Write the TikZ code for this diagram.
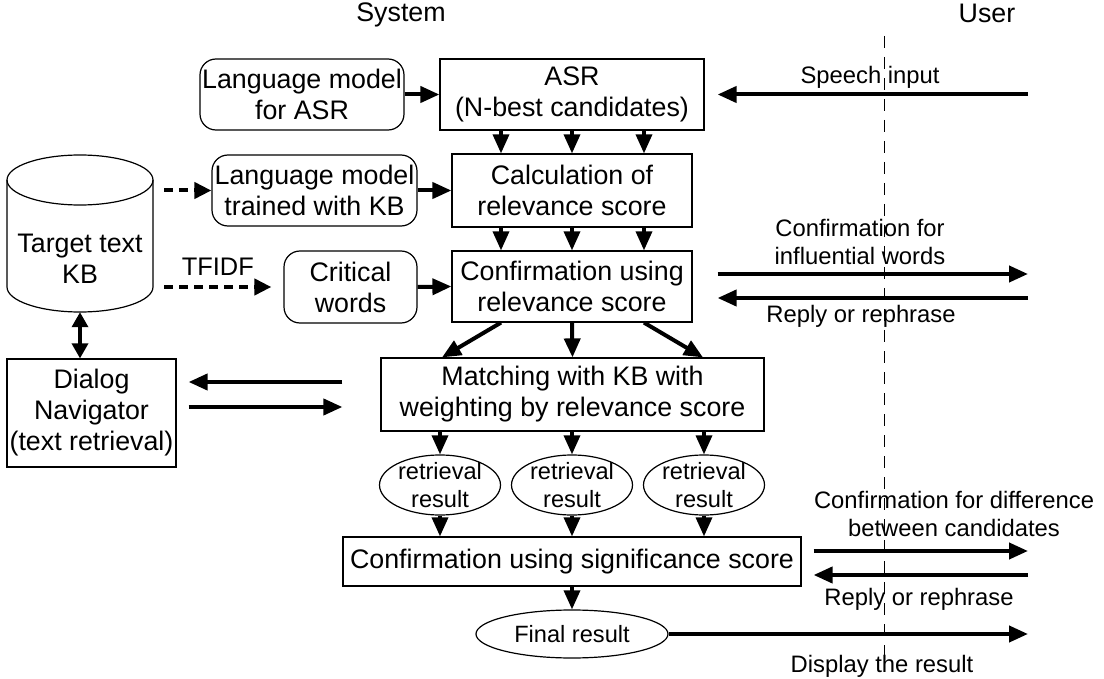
\documentclass[tikz,border=0pt]{standalone}
\usepackage{fontspec}
\setmainfont{Liberation Sans}
\usetikzlibrary{arrows.meta,shapes.geometric,calc}
\newcommand{\mainfs}{\fontsize{26.8}{31}\selectfont}
\newcommand{\labfs}{\fontsize{23.8}{28}\selectfont}
\newcommand{\ellfs}{\fontsize{23.6}{28}\selectfont}
\begin{document}
\begin{tikzpicture}[x=1pt,y=-1pt,
  box/.style={draw, line width=1.2pt, inner sep=0pt, align=center, font=\mainfs},
  rbox/.style={box, rounded corners=16pt},
  ell/.style={draw, ellipse, line width=1.2pt, inner sep=-3pt, align=center, font=\ellfs},
  lab/.style={inner sep=0pt, align=center, font=\labfs},
  tip/.style={-{Triangle[length=19pt,width=16pt]}},
  big/.style={tip, line width=4pt},
  small/.style={tip, line width=3.4pt},
  dotarrow/.style={line width=4pt, dash pattern=on 9pt off 6pt, -{Triangle[length=17pt,width=16pt]}},
  divider/.style={line width=0.9pt, dash pattern=on 12pt off 9pt}]
\useasboundingbox (0,0) rectangle (1104,679);

% headers
\node[inner sep=0pt, font=\mainfs] (sys) at (401,15) {System};
\node[inner sep=0pt, font=\mainfs] (usr) at (987,13) {User};
\draw[divider] (884,36) -- (884,668);

% target text KB cylinder
\draw[line width=1.2pt] (7,180) -- (7,287) arc[start angle=180, end angle=360, x radius=73pt, y radius=25pt] -- (153,180);
\draw[line width=1.2pt] (80,180) ellipse[x radius=73pt, y radius=25pt];
\node[inner sep=0pt, minimum width=146pt, minimum height=157pt] (kb) at (80,233.5) {};
\node[inner sep=0pt, align=center, font=\mainfs] (kbtext) at (80,259) {Target text\\KB};

% boxes
\node[rbox, minimum width=204pt, minimum height=71pt] (lm1) at (302,94.5) {Language model\\for ASR};
\node[box, minimum width=264pt, minimum height=71pt] (asr) at (572,94.5) {ASR\\(N-best candidates)};
\node[rbox, minimum width=205pt, minimum height=71pt] (lm2) at (314.5,190.5) {Language model\\trained with KB};
\node[box, minimum width=240pt, minimum height=73pt] (calc) at (572,190.5) {Calculation of\\relevance score};
\node[rbox, minimum width=133pt, minimum height=72pt] (crit) at (350.5,287) {Critical\\words};
\node[box, minimum width=240pt, minimum height=71pt] (conf) at (572,286.5) {Confirmation using\\relevance score};
\node[box, minimum width=383pt, minimum height=73pt] (match) at (572.5,394.5) {Matching with KB with\\weighting by relevance score};
\node[box, minimum width=169pt, minimum height=108pt] (dn) at (91.5,413) {Dialog\\Navigator\\(text retrieval)};
\node[ell, minimum width=121pt, minimum height=60pt] (r1) at (440,485) {retrieval\\result};
\node[ell, minimum width=121pt, minimum height=60pt] (r2) at (572,485) {retrieval\\result};
\node[ell, minimum width=121pt, minimum height=60pt] (r3) at (704,485) {retrieval\\result};
\node[box, minimum width=458pt, minimum height=49pt] (sig) at (572,561.5) {Confirmation using significance score};
\node[ell, minimum width=192pt, minimum height=48pt] (fin) at (572,634) {Final result};

% user-side end
\coordinate (ux) at (1028,0);

% arrows into the ASR chain
\draw[big] (lm1.east) -- (asr.west);
\draw[big] (lm2.east) -- (calc.west);
\draw[big] (crit.east) -- (conf.west);
\foreach \dx in {-71,0,72} {
  \draw[small] ($(asr.south)+(\dx,0)$) -- ($(calc.north)+(\dx,0)$);
  \draw[small] ($(calc.south)+(\dx,0)$) -- ($(conf.north)+(\dx,0)$);
}
\draw[big] ($(conf.south)+(-71,0)$) -- ($(match.north)+(-130.5,0)$);
\draw[big] (conf.south) -- (match.north);
\draw[big] ($(conf.south)+(72,0)$) -- ($(match.north)+(130.5,0)$);
\draw[small] (match.south -| r1) -- (r1.north);
\draw[small] (match.south -| r2) -- (r2.north);
\draw[small] (match.south -| r3) -- (r3.north);
\draw[small] (r1.south) -- (sig.north -| r1);
\draw[small] (r2.south) -- (sig.north -| r2);
\draw[small] (r3.south) -- (sig.north -| r3);
\draw[small] (sig.south) -- (fin.north);

% KB side
\draw[dotarrow] ({$(kb.east)+(11,0)$} |- lm2.west) -- (lm2.west);
\draw[dotarrow] ({$(kb.east)+(11,0)$} |- crit.west) -- ($(crit.west)+(-12,0)$)
  node[midway, above=9pt, inner sep=0pt, font=\fontsize{25.4}{30}\selectfont] (tfidf) {TFIDF};
\draw[line width=3.4pt, {Triangle[length=15pt,width=16pt]}-{Triangle[length=15pt,width=16pt]}] (kb.south) -- (kb.south |- dn.north);
\draw[big] ($(match.west)+(-38,-12.5)$) -- ($(dn.east)+(12,-31)$);
\draw[big] ($(dn.east)+(12,-6)$) -- ($(match.west)+(-38,12.5)$);

% user-side arrows
\draw[big] (ux |- asr.east) -- ($(asr.east)+(13,0)$);
\draw[big] ($(conf.east)+(25,-12.5)$) -- (ux |- {$(conf.east)+(0,-12.5)$});
\draw[big] (ux |- {$(conf.east)+(0,11.5)$}) -- ($(conf.east)+(25,11.5)$);
\draw[big] ($(sig.east)+(12,-10.5)$) -- (ux |- {$(sig.east)+(0,-10.5)$});
\draw[big] (ux |- {$(sig.east)+(0,13.5)$}) -- ($(sig.east)+(12,13.5)$);
\draw[big] (fin.east) -- (ux |- fin.east);

% user-side labels
\node[lab] (l1) at (870,77) {Speech input};
\node[lab] (l2) at (860,242) {Confirmation for\\influential words};
\node[lab] (l3) at (861,316) {Reply or rephrase};
\node[lab] (l4) at (954,514) {Confirmation for difference\\between candidates};
\node[lab] (l5) at (919,599) {Reply or rephrase};
\node[lab] (l6) at (882,666) {Display the result};
\end{tikzpicture}
\end{document}
